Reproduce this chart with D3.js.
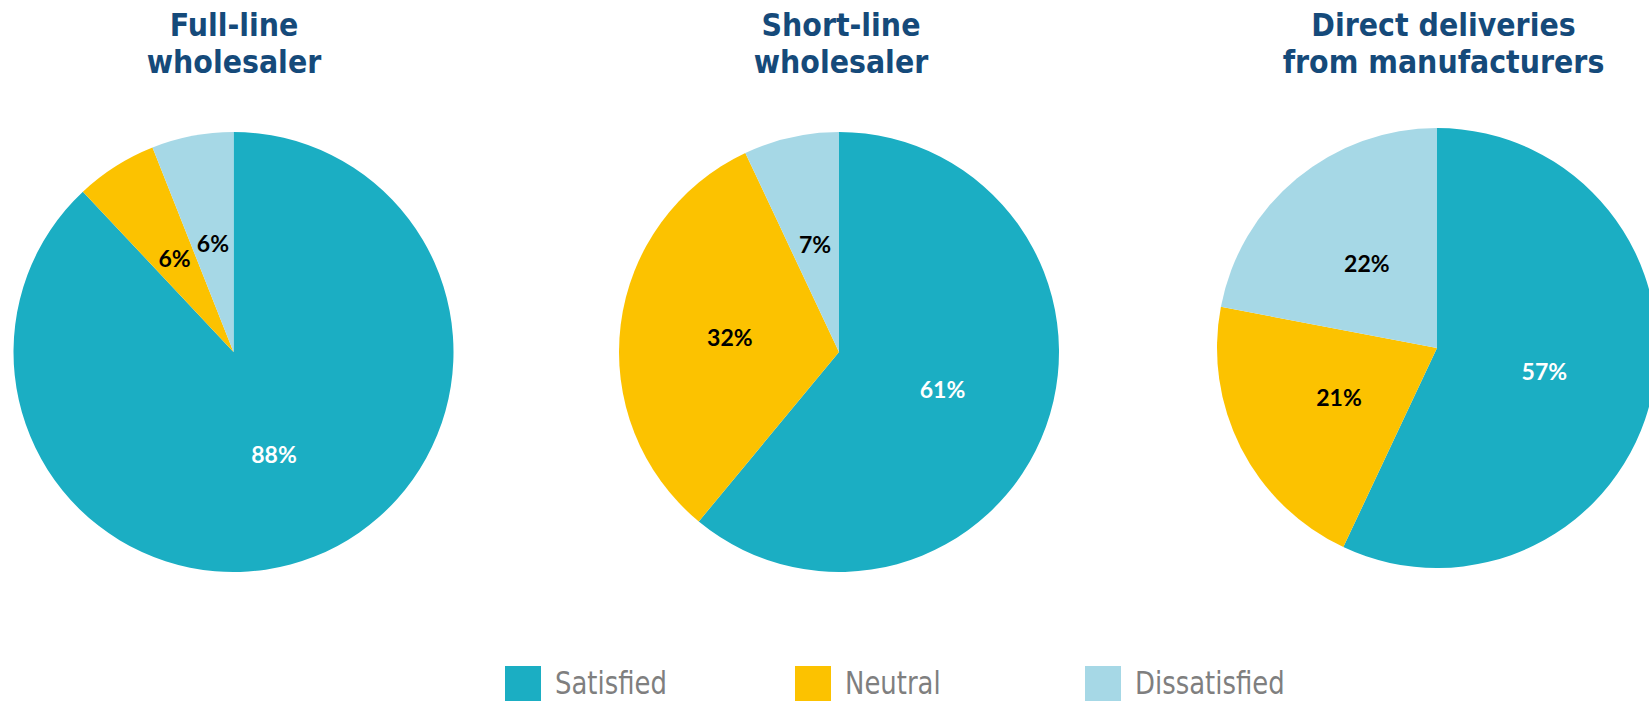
<!DOCTYPE html>
<html>
<head>
<meta charset="utf-8">
<script src="https://cdn.jsdelivr.net/npm/d3@7"></script>
<style>
  html, body { margin: 0; padding: 0; background: #ffffff; overflow: hidden; }
  svg { display: block; }
</style>
</head>
<body>
<svg id="chart" width="1649" height="701"></svg>
<script>
// ---- Data ----
const categories = ["Satisfied", "Neutral", "Dissatisfied"];
const chartTitles = [
  ["Full-line", "wholesaler"],
  ["Short-line", "wholesaler"],
  ["Direct deliveries", "from manufacturers"]
];
const fullLineValues = [88, 6, 6];
const shortLineValues = [61, 32, 7];
const directValues = [57, 21, 22];
const seriesValues = [fullLineValues, shortLineValues, directValues];

// ---- Style / layout ----
const colors = ["#1BAEC3", "#FCC200", "#A6D8E6"];
const labelColors = ["#ffffff", "#000000", "#000000"];
const titleColor = "#154A7A";
const legendTextColor = "#7F7F7F";

const radius = 220;
const pieCenters = [[233.5, 352], [839, 352], [1437, 348]];
const titleCenters = [234, 841, 1443.5];

const svg = d3.select("#chart");

const color = d3.scaleOrdinal().domain(categories).range(colors);
const labelColor = d3.scaleOrdinal().domain(categories).range(labelColors);

const pie = d3.pie().sort(null).value(d => d.value);
const arc = d3.arc().innerRadius(0).outerRadius(radius);
const labelArc = d3.arc().innerRadius(radius * 0.5).outerRadius(radius * 0.5);

seriesValues.forEach((vals, i) => {
  const data = categories.map((c, j) => ({ cat: c, value: vals[j] }));
  const [cx, cy] = pieCenters[i];
  const g = svg.append("g").attr("transform", `translate(${cx},${cy})`);
  const arcs = pie(data);

  g.selectAll("path.slice")
    .data(arcs)
    .join("path")
    .attr("class", "slice")
    .attr("d", arc)
    .attr("fill", d => color(d.data.cat));

  g.selectAll("text.lbl")
    .data(arcs)
    .join("text")
    .attr("class", "lbl")
    .attr("transform", d => `translate(${labelArc.centroid(d)})`)
    .attr("text-anchor", "middle")
    .attr("dy", "0.36em")
    .attr("font-family", "Lato, 'Open Sans', sans-serif")
    .attr("font-weight", "bold")
    .attr("font-size", 23)
    .attr("fill", d => labelColor(d.data.cat))
    .text(d => d.data.value + "%");

  // Title
  const tg = svg.append("g");
  const lineBaselines = [36, 73];
  chartTitles[i].forEach((line, k) => {
    tg.append("text")
      .attr("transform", `translate(${titleCenters[i]},${lineBaselines[k]}) scale(0.89,1)`)
      .attr("text-anchor", "middle")
      .attr("font-family", "'DejaVu Sans', Verdana, sans-serif")
      .attr("font-weight", "bold")
      .attr("font-size", 32)
      .attr("fill", titleColor)
      .text(line);
  });
});

// ---- Legend ----
const legendX = [505, 795, 1085];
const legend = svg.append("g");
categories.forEach((c, i) => {
  legend.append("rect")
    .attr("x", legendX[i])
    .attr("y", 666)
    .attr("width", 36)
    .attr("height", 36)
    .attr("fill", color(c));
  legend.append("text")
    .attr("transform", `translate(${legendX[i] + 50},694) scale(0.81,1)`)
    .attr("font-family", "'DejaVu Sans', Verdana, sans-serif")
    .attr("font-size", 32)
    .attr("fill", legendTextColor)
    .text(c);
});
</script>
</body>
</html>
